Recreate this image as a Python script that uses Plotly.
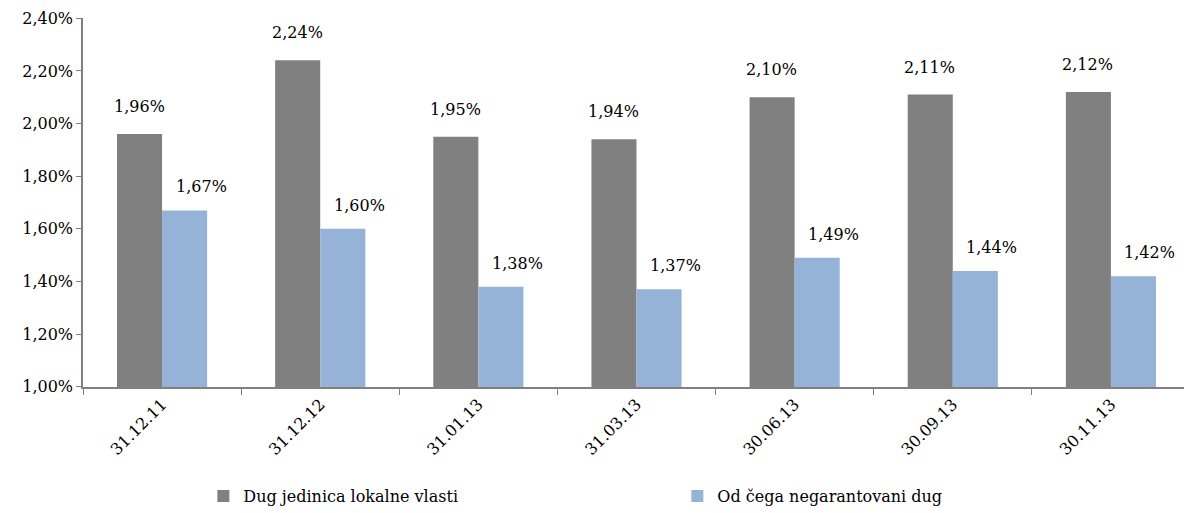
import plotly.graph_objects as go

categories = ["31.12.11", "31.12.12", "31.01.13", "31.03.13", "30.06.13", "30.09.13", "30.11.13"]
dug_lokalne = [1.96, 2.24, 1.95, 1.94, 2.10, 2.11, 2.12]
negarantovani = [1.67, 1.60, 1.38, 1.37, 1.49, 1.44, 1.42]
series_names = ["Dug jedinica lokalne vlasti", "Od čega negarantovani dug"]
y_ticks = [1.0, 1.2, 1.4, 1.6, 1.8, 2.0, 2.2, 2.4]

FONT = "DejaVu Serif"
FS = 16
GRAY = "#808080"
BLUE = "#95B3D7"

def pct(v):
    return f"{v:.2f}".replace(".", ",") + "%"

fig = go.Figure()
fig.add_trace(go.Bar(x=categories, y=dug_lokalne, name=series_names[0],
                     marker=dict(color=GRAY, line=dict(width=0))))
fig.add_trace(go.Bar(x=categories, y=negarantovani, name=series_names[1],
                     marker=dict(color=BLUE, line=dict(width=0))))

for c, v in zip(categories, dug_lokalne):
    fig.add_annotation(x=c, y=v, text=pct(v), showarrow=False, xref="x", yref="y",
                       yanchor="bottom", yshift=16, xshift=-23,
                       font=dict(family=FONT, size=FS, color="black"))
for c, v in zip(categories, negarantovani):
    fig.add_annotation(x=c, y=v, text=pct(v), showarrow=False, xref="x", yref="y",
                       yanchor="bottom", yshift=12, xshift=39,
                       font=dict(family=FONT, size=FS, color="black"))

fig.update_layout(
    width=1184, height=505,
    margin=dict(l=75, r=2, t=10, b=126),
    paper_bgcolor="white", plot_bgcolor="white",
    barmode="group", bargap=0.43, bargroupgap=0,
    font=dict(family=FONT, size=FS, color="black"),
    showlegend=True,
    legend=dict(orientation="h", xref="container", yref="container",
                x=0.165, xanchor="left", y=0.0, yanchor="bottom",
                entrywidth=429, entrywidthmode="pixels", itemwidth=30,
                font=dict(family=FONT, size=FS, color="black"), traceorder="normal"),
)
fig.update_yaxes(range=[0.999, 2.401], tickvals=y_ticks,
                 ticktext=[pct(t) for t in y_ticks], automargin=False,
                 ticklabeloverflow="allow",
                 showgrid=False, zeroline=False, showline=True, linecolor=GRAY, linewidth=1.5,
                 ticks="outside", ticklen=5, tickcolor=GRAY, tickfont=dict(family=FONT, size=FS))
fig.update_xaxes(showgrid=False, showline=True, linecolor=GRAY, linewidth=1.5, automargin=False,
                 ticklabeloverflow="allow",
                 ticks="outside", ticklen=6, tickcolor=GRAY, tickson="boundaries",
                 tickangle=-45, tickfont=dict(family=FONT, size=FS))

fig.write_html("out.html")
